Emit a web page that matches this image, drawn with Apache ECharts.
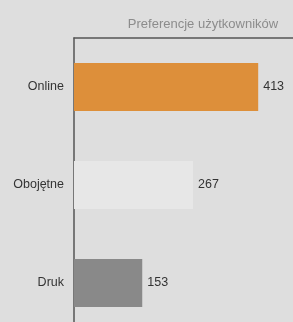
<!DOCTYPE html>
<html>
<head>
<meta charset="utf-8">
<script src="https://cdn.jsdelivr.net/npm/echarts@6/dist/echarts.min.js"></script>
<style>
  html, body { margin: 0; padding: 0; background: #dedede; }
  #chart { width: 293px; height: 322px; }
</style>
</head>
<body>
<div id="chart"></div>
<script>
const categories = ['Online', 'Obojętne', 'Druk']
const values = [413, 267, 153]
const barColors = ['#dd8f3a', '#e7e7e7', '#898989']

const chart = echarts.init(document.getElementById('chart'))

const option = {
  backgroundColor: '#dedede',
  title: {
    text: 'Preferencje użytkowników',
    left: 198,
    top: 13,
    textAlign: 'center',
    textStyle: { color: '#8c8c8c', fontSize: 13, fontWeight: 'normal', fontFamily: 'Liberation Sans, Arial, sans-serif' }
  },
  grid: {
    left: 74,
    top: 38,
    width: 223,
    height: 294,
    outerBoundsMode: 'none'
  },
  xAxis: {
    type: 'value',
    position: 'top',
    min: 0,
    max: 500,
    axisLine: { show: true, lineStyle: { color: '#555', width: 1.5 } },
    axisTick: { show: false },
    axisLabel: { show: false },
    splitLine: { show: false }
  },
  yAxis: {
    type: 'category',
    inverse: true,
    data: categories,
    axisLine: { show: true, lineStyle: { color: '#555', width: 1.5 } },
    axisTick: { show: false },
    axisLabel: { color: '#333', fontSize: 12.5, margin: 10, fontFamily: 'Liberation Sans, Arial, sans-serif' }
  },
  series: [{
    type: 'bar',
    barWidth: 48,
    data: values.map((v, i) => ({ value: v, itemStyle: { color: barColors[i] } })),
    label: {
      show: true,
      position: 'right',
      distance: 5,
      color: '#333',
      fontSize: 12.5,
      fontFamily: 'Liberation Sans, Arial, sans-serif'
    }
  }]
}

chart.setOption(option)
</script>
</body>
</html>
